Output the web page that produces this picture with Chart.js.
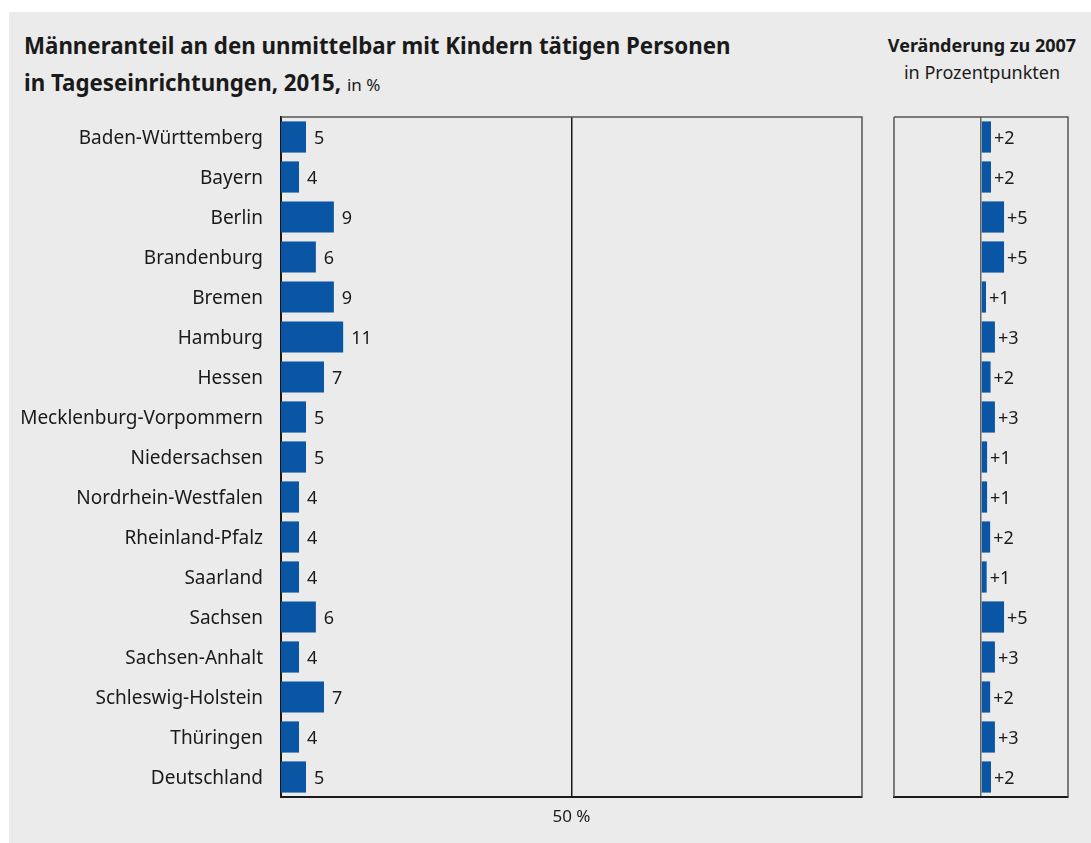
<!DOCTYPE html>
<html lang="de">
<head>
<meta charset="utf-8">
<script src="https://cdn.jsdelivr.net/npm/chart.js@4.4.1/dist/chart.umd.min.js"></script>
<style>
  html, body { margin: 0; padding: 0; background: #ffffff; }
  body { width: 1091px; height: 843px; position: relative; overflow: hidden; font-family: "Noto Sans", sans-serif; }
  #panel { position: absolute; left: 9px; top: 12px; width: 1082px; height: 831px; background: #ebebeb; }
  #title { position: absolute; left: 24px; top: 27px; font-size: 22.3px; font-weight: bold; line-height: 37px; color: #1a1a1a; }
  #title span { font-weight: normal; font-size: 17px; }
  #sub { position: absolute; left: 870px; width: 224px; top: 32px; text-align: center; font-size: 18px; line-height: 27px; color: #1a1a1a; }
  #sub b { font-weight: bold; font-size: 18px; }
  #c1 { position: absolute; left: 0; top: 0; }
  #c2 { position: absolute; left: 880px; top: 0; }
</style>
</head>
<body>
<div id="panel"></div>
<div id="title">Männeranteil an den unmittelbar mit Kindern tätigen Personen<br>in Tageseinrichtungen, 2015, <span>in %</span></div>
<div id="sub"><b>Veränderung zu 2007</b><br>in Prozentpunkten</div>
<canvas id="c1" width="880" height="843"></canvas>
<canvas id="c2" width="211" height="843"></canvas>
<script>
const categories = ["Baden-Württemberg","Bayern","Berlin","Brandenburg","Bremen","Hamburg","Hessen","Mecklenburg-Vorpommern","Niedersachsen","Nordrhein-Westfalen","Rheinland-Pfalz","Saarland","Sachsen","Sachsen-Anhalt","Schleswig-Holstein","Thüringen","Deutschland"];
const share2015 = [4.3, 3.1, 9.1, 6.0, 9.1, 10.7, 7.4, 4.3, 4.3, 3.1, 3.1, 3.1, 6.0, 3.1, 7.4, 3.1, 4.3];
const share2015Labels = ["5","4","9","6","9","11","7","5","5","4","4","4","6","4","7","4","5"];
const change2007 = [2.3, 2.3, 5.3, 5.3, 1.15, 3.2, 2.2, 3.2, 1.4, 1.4, 2.1, 1.3, 5.3, 3.2, 2.1, 3.2, 2.3];
const change2007Labels = ["+2","+2","+5","+5","+1","+3","+2","+3","+1","+1","+2","+1","+5","+3","+2","+3","+2"];
const shareTicks = [50];
const shareTickLabels = ["50 %"];

const FONT = '"Noto Sans", sans-serif';
const BAR = '#0b56a4';
const TXT = '#1a1a1a';

const framePlugin = {
  id: 'frame',
  afterDatasetsDraw(chart, args, opts) {
    const a = chart.chartArea, ctx = chart.ctx;
    ctx.save();
    ctx.strokeStyle = opts.color || '#555';
    ctx.lineWidth = 1.5;
    ctx.beginPath();
    ctx.moveTo(a.left, a.top); ctx.lineTo(a.right, a.top); ctx.lineTo(a.right, a.bottom);
    if (opts.left) { ctx.moveTo(a.left, a.top); ctx.lineTo(a.left, a.bottom); }
    ctx.stroke();
    ctx.restore();
  }
};

const valueLabelPlugin = {
  id: 'valueLabels',
  afterDatasetsDraw(chart, args, opts) {
    const ctx = chart.ctx;
    const meta = chart.getDatasetMeta(0);
    ctx.save();
    ctx.font = '18px ' + FONT;
    ctx.fillStyle = TXT;
    ctx.textAlign = 'left';
    ctx.textBaseline = 'middle';
    meta.data.forEach((el, i) => {
      ctx.fillText(opts.labels[i], el.x + opts.gap, el.y + 2);
    });
    ctx.restore();
  }
};

new Chart(document.getElementById('c1'), {
  type: 'bar',
  data: {
    labels: categories,
    datasets: [{ data: share2015, backgroundColor: BAR, borderWidth: 0, barPercentage: 0.78, categoryPercentage: 1 }]
  },
  options: {
    indexAxis: 'y',
    responsive: false,
    animation: false,
    layout: { padding: { top: 117, right: 18, left: 0, bottom: 0 } },
    plugins: {
      legend: { display: false },
      tooltip: { enabled: false },
      frame: { color: '#555', left: false },
      valueLabels: { labels: share2015Labels, gap: 8 }
    },
    scales: {
      x: {
        min: 0, max: 100,
        afterBuildTicks(s) { s.ticks = shareTicks.map(v => ({ value: v })); },
        afterFit(s) { s.height = 46; },
        ticks: {
          font: { family: FONT, size: 17 }, color: TXT, padding: 10,
          callback(v) { const i = shareTicks.indexOf(v); return i >= 0 ? shareTickLabels[i] : ''; }
        },
        grid: { color: '#1a1a1a', lineWidth: 1.5, drawTicks: false },
        border: { display: true, color: '#1a1a1a', width: 2 }
      },
      y: {
        afterFit(s) { s.width = 281; },
        ticks: { font: { family: FONT, size: 19 }, color: TXT, padding: 18, labelOffset: 2 },
        grid: { display: false, drawTicks: false },
        border: { display: true, color: '#1a1a1a', width: 2 }
      }
    }
  },
  plugins: [framePlugin, valueLabelPlugin]
});

new Chart(document.getElementById('c2'), {
  type: 'bar',
  data: {
    labels: categories,
    datasets: [{ data: change2007, backgroundColor: BAR, borderWidth: 0, barPercentage: 0.78, categoryPercentage: 1 }]
  },
  options: {
    indexAxis: 'y',
    responsive: false,
    animation: false,
    layout: { padding: { top: 117, right: 23, left: 14, bottom: 0 } },
    plugins: {
      legend: { display: false },
      tooltip: { enabled: false },
      frame: { color: '#555', left: true },
      valueLabels: { labels: change2007Labels, gap: 3 }
    },
    scales: {
      x: {
        min: -20, max: 20,
        afterBuildTicks(s) { s.ticks = [{ value: 0 }]; },
        afterFit(s) { s.height = 46; },
        ticks: { display: false },
        grid: { color: '#666', lineWidth: 1.5, drawTicks: false },
        border: { display: true, color: '#1a1a1a', width: 2 }
      },
      y: {
        display: false
      }
    }
  },
  plugins: [framePlugin, valueLabelPlugin]
});
</script>
</body>
</html>
